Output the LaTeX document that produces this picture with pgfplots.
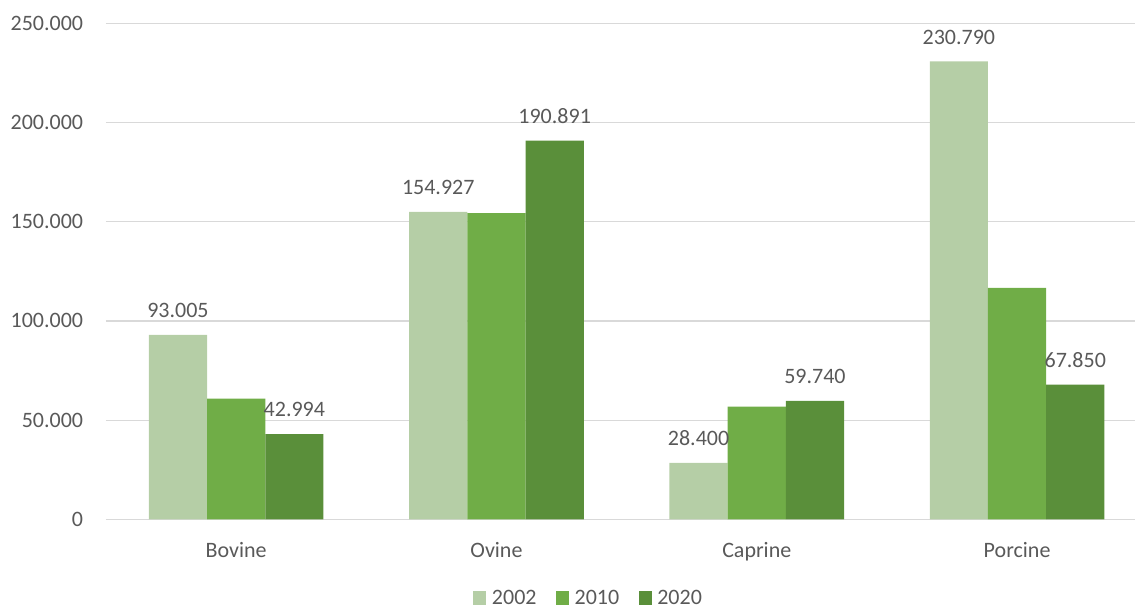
\documentclass[border=0pt]{standalone}
\usepackage{fontspec}
\setmainfont{Carlito}
\usepackage{pgfplots}
\pgfplotsset{compat=1.18}
\usetikzlibrary{calc}

\definecolor{c2002}{HTML}{B5CEA6}
\definecolor{c2010}{HTML}{70AD47}
\definecolor{c2020}{HTML}{5A8F3A}
\definecolor{txt}{HTML}{595959}
\definecolor{grid}{HTML}{D9D9D9}

\begin{document}
\begin{tikzpicture}[font=\fontsize{16.5}{19}\selectfont]
  \begin{axis}[
      scale only axis,
      width=771.75pt, height=372pt,
      ybar=0pt, bar width=43.65pt,
      xmin=-0.5, xmax=3.453,
      ymin=0, ymax=250000,
      xtick={0,1,2,3},
      xticklabels={Bovine,Ovine,Caprine,Porcine},
      ytick={0,50000,100000,150000,200000,250000},
      scaled y ticks=false,
      /pgf/number format/.cd, fixed, precision=0, 1000 sep={.}, assume math mode=true, /pgfplots/.cd,
      major tick length=0pt,
      axis line style={draw=none},
      ymajorgrids, major grid style={color=grid, line width=0.9pt},
      tick label style={text=txt},
      yticklabel style={anchor=east, inner sep=0pt, xshift=-17pt},
      xticklabel style={anchor=base, inner sep=0pt, yshift=-28.5pt},
      legend columns=3,
      legend style={at={(0.468,0)}, anchor=center, yshift=-59pt,
        draw=none, fill=none, inner sep=0pt, text=txt,
        nodes={inner sep=0pt},
        /tikz/every odd column/.append style={column sep=4.3pt},
        /tikz/every even column/.append style={column sep=14.5pt}},
      legend image code/.code={\fill[#1] (0pt,-4.9pt) rectangle (9.75pt,4.9pt);},
      every node near coord/.append style={text=txt, anchor=south, inner sep=0pt, yshift=12.5pt},
    ]
    \addplot[fill=c2002, draw=none, nodes near coords]
      coordinates {(0,93005) (1,154927) (2,28400) (3,230790)};
    \addlegendentry{2002}
    \addplot[fill=c2010, draw=none]
      coordinates {(0,60850) (1,154300) (2,56800) (3,116600)};
    \addlegendentry{2010}
    \addplot[fill=c2020, draw=none, nodes near coords]
      coordinates {(0,42994) (1,190891) (2,59740) (3,67850)};
    \addlegendentry{2020}
    \coordinate (sw) at (rel axis cs:0,0);
    \coordinate (ne) at (rel axis cs:1,1);
  \end{axis}
  \pgfresetboundingbox
  \path ($(sw)+(-79.5pt,-66.5pt)$) rectangle ($(ne)+(0pt,17.5pt)$);
\end{tikzpicture}
\end{document}
